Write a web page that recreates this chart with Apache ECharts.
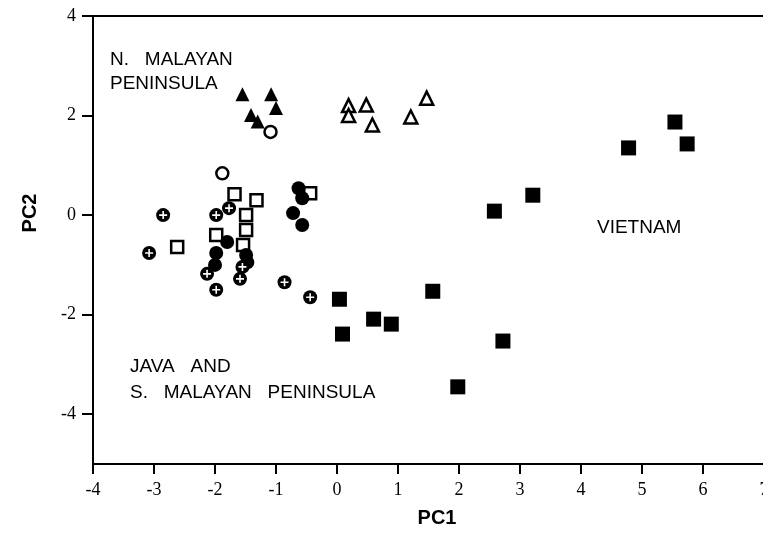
<!DOCTYPE html>
<html>
<head>
<meta charset="utf-8">
<script src="https://cdn.jsdelivr.net/npm/echarts@6/dist/echarts.min.js"></script>
<style>
  html, body { margin: 0; padding: 0; background: #fff; }
  #chart { width: 763px; height: 548px; }
</style>
</head>
<body>
<div id="chart"></div>
<script>
const myChart = echarts.init(document.querySelector('#chart'));

// values [PC1, PC2]
const northFilledTri = [[-1.55, 2.43], [-1.08, 2.43], [-1.0, 2.15], [-1.41, 2.01], [-1.30, 1.88]];
const northOpenTri = [[0.19, 2.2], [0.19, 2.0], [0.48, 2.21], [0.58, 1.81], [1.21, 1.97], [1.47, 2.35]];
const openCircles = [[-1.09, 1.67], [-1.88, 0.84]];
const openSquares = [[-1.68, 0.42], [-1.32, 0.30], [-1.49, 0.0], [-1.49, -0.30], [-1.98, -0.40],
  [-1.54, -0.6], [-2.62, -0.64], [-0.44, 0.44]];
const filledCircles = [[-1.80, -0.54], [-1.98, -0.76], [-2.0, -1.0], [-1.49, -0.8], [-1.47, -0.95],
  [-0.63, 0.54], [-0.57, 0.34], [-0.72, 0.04], [-0.57, -0.2]];
const crossedCircles = [[-1.77, 0.14], [-1.98, 0.0], [-2.13, -1.18], [-1.98, -1.5], [-1.55, -1.04],
  [-1.59, -1.28], [-2.85, 0.0], [-3.08, -0.76], [-0.86, -1.35], [-0.44, -1.65]];
const vietnam = [[0.04, -1.69], [0.09, -2.39], [0.60, -2.09], [0.89, -2.19], [1.57, -1.53],
  [2.72, -2.53], [1.98, -3.45], [2.58, 0.08], [3.21, 0.40], [4.78, 1.35], [5.54, 1.87], [5.74, 1.43]];

const yTicks = [-4, -2, 0, 2, 4];

const tickFont = { fontFamily: 'Liberation Serif', fontSize: 18, color: '#000' };
const labelFont = { fontFamily: 'Liberation Sans', fontSize: 19, fill: '#000', verticalAlign: 'middle' };
const nameFont = { fontFamily: 'Liberation Sans', fontWeight: 'bold', fontSize: 20, fill: '#000',
  align: 'center', verticalAlign: 'middle' };

const filled = { color: '#000', opacity: 1 };
const hollow = { color: '#fff', borderColor: '#000', borderWidth: 2.5, opacity: 1 };

myChart.setOption({
  animation: false,
  grid: {
    left: 93, top: 16, right: -1, bottom: 84, outerBoundsMode: 'none',
    show: true, borderColor: '#000', borderWidth: 2
  },
  xAxis: {
    type: 'value', min: -4, max: 7, interval: 1,
    axisLine: { onZero: false, lineStyle: { color: '#000', width: 2 } },
    axisTick: { length: 10, lineStyle: { color: '#000', width: 2 } },
    axisLabel: { ...tickFont, margin: 17 },
    splitLine: { show: false }
  },
  yAxis: {
    type: 'value', min: -5, max: 4,
    axisLine: { onZero: false, lineStyle: { color: '#000', width: 2 } },
    axisTick: { length: 11, customValues: yTicks, lineStyle: { color: '#000', width: 2 } },
    axisLabel: { ...tickFont, margin: 17, customValues: yTicks },
    splitLine: { show: false }
  },
  graphic: [
    { type: 'text', x: 437, y: 518, style: { ...nameFont, text: 'PC1' } },
    { type: 'text', x: 30, y: 213, rotation: Math.PI / 2, style: { ...nameFont, text: 'PC2' } },
    { type: 'text', x: 110, y: 60, style: { ...labelFont, text: 'N.   MALAYAN' } },
    { type: 'text', x: 110, y: 84, style: { ...labelFont, text: 'PENINSULA' } },
    { type: 'text', x: 597, y: 228, style: { ...labelFont, text: 'VIETNAM' } },
    { type: 'text', x: 130, y: 367, style: { ...labelFont, text: 'JAVA   AND' } },
    { type: 'text', x: 130, y: 393, style: { ...labelFont, text: 'S.   MALAYAN   PENINSULA' } }
  ],
  series: [
    { type: 'scatter', data: openSquares, symbol: 'rect', symbolSize: 12, itemStyle: hollow },
    { type: 'scatter', data: filledCircles, symbol: 'circle', symbolSize: 14, itemStyle: filled },
    { type: 'scatter', data: crossedCircles, symbol: 'circle', symbolSize: 14, itemStyle: filled },
    { type: 'scatter', data: crossedCircles, symbol: 'path://M4,0H6V4H10V6H6V10H4V6H0V4H4Z',
      symbolSize: 8, itemStyle: { color: '#fff', opacity: 1 } },
    { type: 'scatter', data: openCircles, symbol: 'circle', symbolSize: 12, itemStyle: hollow },
    { type: 'scatter', data: northFilledTri, symbol: 'triangle', symbolSize: 14, itemStyle: filled },
    { type: 'scatter', data: northOpenTri, symbol: 'triangle', symbolSize: 13, itemStyle: hollow },
    { type: 'scatter', data: vietnam, symbol: 'rect', symbolSize: 15, itemStyle: filled }
  ]
});
</script>
</body>
</html>
